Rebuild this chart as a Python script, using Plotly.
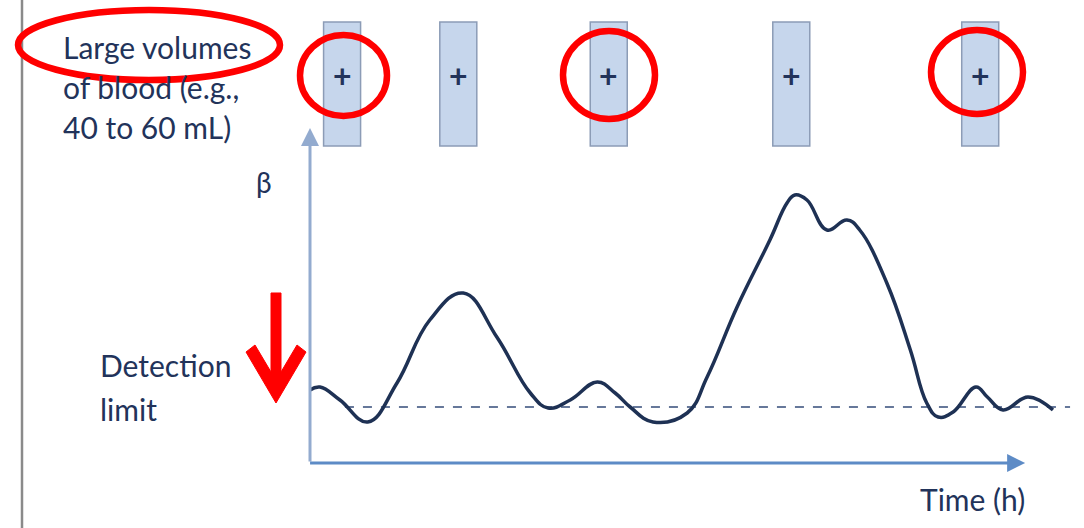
import plotly.graph_objects as go

W, H = 1084, 528

# ---- data ----
time_h = [0.00, 0.14, 0.42, 0.81, 1.22, 1.68, 2.15, 2.62, 3.09, 3.34, 3.65, 4.03, 4.28, 4.49,
          4.81, 5.29, 5.57, 5.99, 6.45, 6.69, 6.80, 6.97, 7.25, 7.53, 7.71, 8.09, 8.42, 8.65,
          8.81, 9.02, 9.34, 9.50, 9.72, 10.07, 10.42]
beta = [1.46, 1.52, 1.26, 0.82, 1.60, 2.86, 3.40, 2.52, 1.40, 1.10, 1.26, 1.62, 1.40, 1.12,
        0.82, 1.00, 1.72, 3.12, 4.46, 5.20, 5.36, 5.26, 4.66, 4.86, 4.66, 3.60, 2.26, 1.20,
        0.92, 1.02, 1.52, 1.32, 1.06, 1.32, 1.06]
detection_limit = 1.12
detection_span = [0.49, 10.66]
sample_times = [0.45, 2.08, 4.19, 6.75, 9.40]
circled_samples = [0, 2, 4]
sample_label = "+"
axis_tip = {"x": 10.03, "y": 6.7}

text_blue = "#22335a"
red = "#ff0000"
FONT = "Lato"

X_RANGE = [-310 / 71.3, (W - 310) / 71.3]
Y_RANGE = [(463 - H) / 50, 463 / 50]


def px(x):
    return x / W


def py(y):
    return 1 - y / H


fig = go.Figure()

fig.add_trace(go.Scatter(
    x=detection_span, y=[detection_limit] * 2, mode="lines",
    line=dict(color="#66789a", width=2, dash="dash"), hoverinfo="skip"))
fig.add_trace(go.Scatter(
    x=time_h, y=beta, mode="lines",
    line=dict(color="#1e3154", width=3.5, shape="spline", smoothing=1.2), hoverinfo="skip"))

shapes = []
annotations = []

# left frame line
shapes.append(dict(type="line", xref="paper", yref="paper", x0=px(22), x1=px(22), y0=0, y1=1,
                   line=dict(color="#8a8a8a", width=2.5)))

# blood tubes
half_w = 18.5 / 71.3
for i, t in enumerate(sample_times):
    shapes.append(dict(type="rect", xref="x", yref="paper", x0=t - half_w, x1=t + half_w,
                       y0=py(146), y1=py(22), fillcolor="#c6d6ec",
                       line=dict(color="#8c9cb6", width=1.5), layer="below"))
    annotations.append(dict(x=t, y=py(75), xref="x", yref="paper", text="<b>%s</b>" % sample_label,
                            showarrow=False, xanchor="center", yanchor="middle",
                            font=dict(family=FONT, size=32, color=text_blue)))

# red circles around selected tubes
circle_boxes = {0: (300, 35, 387, 116), 2: (563, 31, 655, 119), 4: (931, 30, 1023, 114)}
for idx in circled_samples:
    x0, y0, x1, y1 = circle_boxes[idx]
    shapes.append(dict(type="circle", xref="paper", yref="paper", x0=px(x0), x1=px(x1),
                       y0=py(y1), y1=py(y0), line=dict(color=red, width=6.5)))

# ellipse around "Large volumes"
shapes.append(dict(type="circle", xref="paper", yref="paper", x0=px(18), x1=px(280),
                   y0=py(80), y1=py(10), line=dict(color=red, width=6.5)))

# red down arrow
pts = [(271, 293), (281, 293), (281, 372), (297, 345), (306, 352), (276, 403),
       (246, 352), (255, 345), (271, 372)]
path = "M " + " L ".join("%.5f,%.5f" % (px(a), py(b)) for a, b in pts) + " Z"
shapes.append(dict(type="path", xref="paper", yref="paper", path=path, fillcolor=red,
                   line=dict(color=red, width=1)))

# axes with arrows
annotations.append(dict(x=0, y=axis_tip["y"], ax=0, ay=0, xref="x", yref="y", axref="x", ayref="y",
                        showarrow=True, arrowhead=2, arrowsize=1.2, arrowwidth=3,
                        arrowcolor="#93abcf", text=""))
annotations.append(dict(x=axis_tip["x"], y=0, ax=-0.02, ay=0, xref="x", yref="y", axref="x", ayref="y",
                        showarrow=True, arrowhead=2, arrowsize=1.2, arrowwidth=3,
                        arrowcolor="#5d8bc6", text=""))


def txt(s, x, y, size=30, anchor="left"):
    annotations.append(dict(x=px(x), y=py(y), xref="paper", yref="paper", text=s, showarrow=False,
                            xanchor=anchor, yanchor="middle",
                            font=dict(family=FONT, size=size, color=text_blue)))


txt("Large volumes", 61, 47)
txt("of blood (e.g.,", 61, 87)
txt("40 to 60 mL)", 61, 127)
txt("β", 264, 182, size=28, anchor="center")
txt("Detection", 98, 365)
txt("limit", 98, 409)
txt("Time (h)", 918, 499)

fig.update_layout(
    width=W, height=H, margin=dict(l=0, r=0, t=0, b=0),
    paper_bgcolor="white", plot_bgcolor="white", showlegend=False,
    xaxis=dict(range=X_RANGE, visible=False, fixedrange=True),
    yaxis=dict(range=Y_RANGE, visible=False, fixedrange=True),
    shapes=shapes, annotations=annotations,
)

fig.write_html("out.html", config={"displayModeBar": False},
               post_script="document.body.style.margin='0';document.body.style.overflow='hidden';")
